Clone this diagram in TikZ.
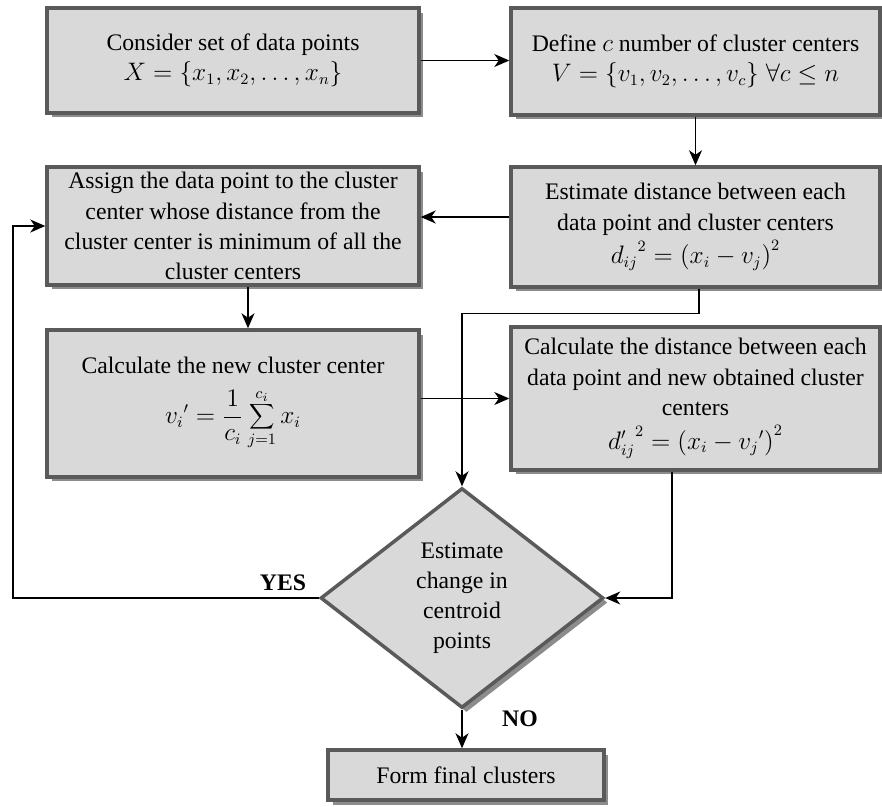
\documentclass[tikz,border=0pt]{standalone}
\usepackage{fontspec}
\setmainfont{Liberation Serif}
\usetikzlibrary{shapes.geometric,arrows.meta,shadows}

\begin{document}
\begin{tikzpicture}[x=0.02cm, y=-0.02cm, >={Stealth[length=0.3cm,width=0.26cm,inset=0.09cm]},
  font=\fontsize{13.5}{17.2}\selectfont,
  box/.style={draw=boxline, line width=2pt, fill=boxfill, align=center, inner sep=2pt,
    drop shadow={shadow xshift=0.09cm, shadow yshift=-0.09cm, fill=black!45, opacity=1}},
  link/.style={->, line width=0.8pt},
  answer/.style={font=\fontsize{13.5}{15}\selectfont\bfseries}]

\definecolor{boxfill}{RGB}{217,217,217}
\definecolor{boxline}{RGB}{90,90,90}

\useasboundingbox (0,0) rectangle (882,806);

% left column
\node[box, minimum width=7.44cm, minimum height=2.10cm] (consider) at (233,60.5)
  {Consider set of data points\\ $X=\{x_1,x_2,\dots,x_n\}$};
\node[box, minimum width=7.44cm, minimum height=2.36cm] (assign) at (233,226)
  {Assign the data point to the cluster\\ center whose distance from the\\ cluster center is minimum of all the\\ cluster centers};
\node[box, minimum width=7.44cm, minimum height=2.94cm] (newcenter) at (233,403.5)
  {Calculate the new cluster center\\[8pt] $\displaystyle {v_i}'=\frac{1}{c_i}\sum_{j=1}^{c_i}x_i$};

% right column
\node[box, minimum width=7.38cm, minimum height=2.14cm] (define) at (695.5,61.5)
  {Define $c$ number of cluster centers\\ $V=\{v_1,v_2,\dots,v_c\}\;\forall c\le n$};
\node[box, minimum width=7.38cm, minimum height=2.40cm] (estimate) at (695.5,227)
  {Estimate distance between each\\ data point and cluster centers\\[2pt] ${d_{ij}}^2=\left(x_i-v_j\right)^2$};
\node[box, minimum width=7.38cm, minimum height=2.86cm] (newdist) at (695.5,398.5)
  {Calculate the distance between each\\ data point and new obtained cluster\\ centers\\[2pt] ${d'_{ij}}^2=\left(x_i-{v_j}'\right)^2$};

% decision and end
\node[box, diamond, inner sep=0pt, minimum width=5.66cm, minimum height=4.40cm] (change) at (462,598)
  {Estimate\\ change in\\ centroid\\ points};
\node[box, minimum width=5.52cm, minimum height=1.00cm] (final) at (466,775)
  {Form final clusters};

\coordinate (loop) at (13,598);
\coordinate (back) at ([yshift=0.2cm]estimate.west);

\draw[link] (consider.east) -- (define.west |- consider.east);
\draw[link] (define.south) -- (estimate.north);
\draw[link] (back) -- (assign.east |- back);
\draw[link] ([xshift=0.3cm]assign.south) -- ([xshift=0.3cm]newcenter.north);
\draw[link] (newcenter.east |- newdist.west) -- (newdist.west);
\draw[link] ([xshift=0.07cm]estimate.south) -- ++(0,25) -| (change.north);
\draw[link] ([xshift=-0.47cm]newdist.south) |- (change.east);
\draw[link] (change.west) -- (loop) |- (assign.west);
\draw[link] (change.south) -- (change.south |- final.north);

\node[answer] (yes) at (283,583) {YES};
\node[answer] (no) at (520,719) {NO};

\end{tikzpicture}
\end{document}
